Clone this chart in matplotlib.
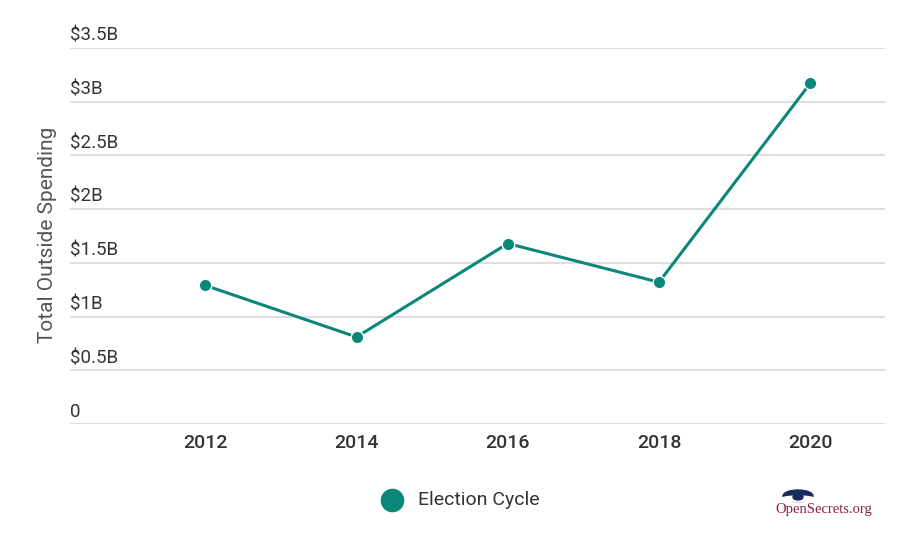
import matplotlib.pyplot as plt
from matplotlib.patches import Ellipse, Circle

plt.rcParams['font.family'] = ['Roboto', 'DejaVu Sans']

# данные
years = [2012, 2014, 2016, 2018, 2020]
spending = [1.29, 0.81, 1.68, 1.32, 3.17]  # млрд $
yticks = [0, 0.5, 1, 1.5, 2, 2.5, 3, 3.5]
ylabels = ['0', '$0.5B', '$1B', '$1.5B', '$2B', '$2.5B', '$3B', '$3.5B']
legend_label = 'Election Cycle'

teal = '#0b877a'

fig = plt.figure(figsize=(9, 5.37), dpi=100)
ax = fig.add_axes([70/900, 1-424/537, 815/900, 376/537])

ax.plot(years, spending, color=teal, lw=2.2, marker='o', ms=9,
        markeredgecolor='white', markeredgewidth=1.0, zorder=3)

ax.set_xlim(2010.21, 2020.99)
ax.set_ylim(0, 3.5)
ax.set_yticks(yticks)
ax.set_yticklabels([])
ax.tick_params(axis='y', length=0)
ax.grid(axis='y', color='#dedede', lw=1.4)
ax.set_axisbelow(True)
for s in ax.spines.values():
    s.set_visible(False)

# подписи над линиями сетки
for t, lab in zip(yticks, ylabels):
    ax.text(0, t + 0.03, lab, transform=ax.get_yaxis_transform(),
            ha='left', va='bottom', fontsize=13.5, color='#333333')

ax.set_xticks(years)
ax.set_xticklabels([str(y) for y in years], fontsize=14, color='#333333',
                   fontweight='medium')
ax.tick_params(axis='x', length=0, pad=7)

fig.text(48/900, 1-235/537, 'Total Outside Spending', rotation=90,
         ha='center', va='center', fontsize=15, color='#555555')

# легенда
fig.lines.append(plt.Line2D([392/900], [1-500/537], marker='o', ms=16,
                            color=teal, transform=fig.transFigure))
fig.text(418/900, 1-500/537, legend_label, ha='left', va='center',
         fontsize=14, color='#333333')

# логотип
fig.patches.append(Ellipse((798/900, 1-496/537), 30/900, 12/537,
                           transform=fig.transFigure, color='#1a2a5e'))
fig.patches.append(Ellipse((798/900, 1-499/537), 34/900, 6/537,
                           transform=fig.transFigure, color='white'))
fig.patches.append(Circle((798/900, 1-497/537), 5/900,
                          transform=fig.transFigure, color='#1a2a5e'))
fig.text(824/900, 1-510/537, 'OpenSecrets.org', ha='center', va='center',
         fontsize=10.5, color='#8b2040', family='Liberation Serif')

fig.savefig('out.png', dpi=100)
